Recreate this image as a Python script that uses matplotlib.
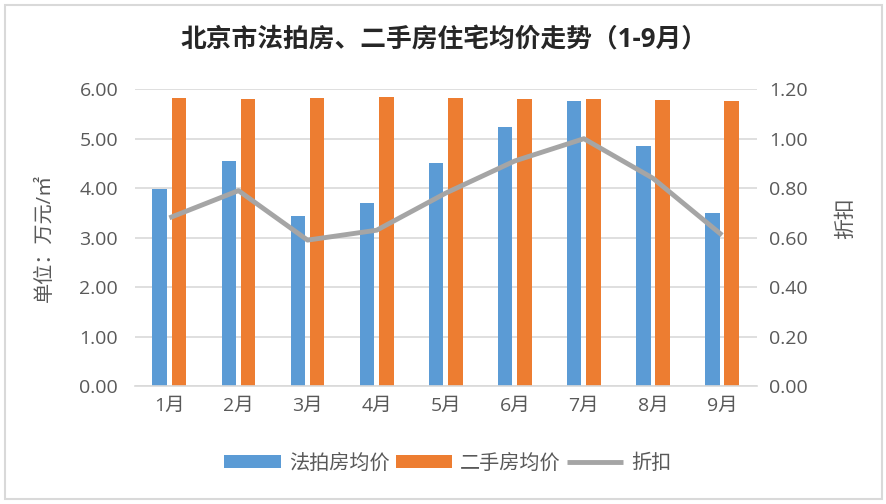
import numpy as np
import matplotlib.pyplot as plt
from matplotlib.patches import Rectangle

plt.rcParams['font.family'] = ['Open Sans', 'Noto Sans CJK SC', 'DejaVu Sans']

# 数据
months = ['1月', '2月', '3月', '4月', '5月', '6月', '7月', '8月', '9月']
auction_price = [3.98, 4.55, 3.43, 3.70, 4.50, 5.23, 5.76, 4.85, 3.50]
second_hand_price = [5.82, 5.80, 5.82, 5.85, 5.82, 5.80, 5.80, 5.78, 5.76]
discount = [0.68, 0.79, 0.59, 0.63, 0.78, 0.91, 1.00, 0.84, 0.61]

blue = '#5B9BD5'
orange = '#ED7D31'
grey = '#A5A5A5'
text_col = '#595959'

fig = plt.figure(figsize=(8.87, 5.04), dpi=100)
ax = fig.add_axes([0.152, 0.234, 0.701, 0.589])
ax2 = ax.twinx()

x = np.arange(len(months))
w = 0.21
ax.bar(x - 0.14, auction_price, w, color=blue, label='法拍房均价', zorder=2)
ax.bar(x + 0.14, second_hand_price, w, color=orange, label='二手房均价', zorder=2)
ax2.plot(x, discount, color=grey, lw=3.5, label='折扣', solid_capstyle='butt')

ax.set_xlim(-0.5, len(months) - 0.5)
ax.set_ylim(0, 6)
ax.set_yticks(np.arange(0, 6.01, 1))
ax.set_yticklabels(['%.2f' % v for v in np.arange(0, 6.01, 1)])
ax2.set_ylim(0, 1.2)
ax2.set_yticks(np.arange(0, 1.21, 0.2))
ax2.set_yticklabels(['%.2f' % v for v in np.arange(0, 1.21, 0.2)])
ax.set_xticks(x)
ax.set_xticklabels(months)

ax.grid(axis='y', color='#D9D9D9', lw=1.2, zorder=0)
ax.set_axisbelow(True)
for a in (ax, ax2):
    for s in a.spines.values():
        s.set_visible(False)
    a.tick_params(length=0, labelsize=14, colors=text_col)
ax.spines['bottom'].set_visible(True)
ax.spines['bottom'].set_color('#D9D9D9')
ax.spines['bottom'].set_linewidth(1.2)
ax.tick_params(axis='y', pad=12)
ax.tick_params(axis='x', pad=8)
ax2.tick_params(axis='y', pad=9)

ax.set_ylabel('单位：万元/㎡', fontsize=14.5, color=text_col)
ax.yaxis.set_label_coords(-0.128, 0.5)
ax2.set_ylabel('折扣', fontsize=15, color=text_col, rotation=90)
ax2.yaxis.set_label_coords(1.127, 0.566)

fig.suptitle('北京市法拍房、二手房住宅均价走势（1-9月）', x=0.5, y=0.92,
             va='center', fontsize=18.5, fontweight='bold', color='#262626')

h1, l1 = ax.get_legend_handles_labels()
h2, l2 = ax2.get_legend_handles_labels()
fig.legend(h1 + h2, l1 + l2, loc='center', bbox_to_anchor=(0.505, 0.08), ncol=3,
           frameon=False, fontsize=14.5, labelcolor=text_col, handlelength=2.8,
           handleheight=0.55, handletextpad=0.4, columnspacing=0.3)

fig.patches.append(Rectangle((0.006, 0.01), 0.988, 0.98, transform=fig.transFigure,
                             fill=False, edgecolor='#D9D9D9', lw=1.5))

fig.savefig('out.png', dpi=100)
